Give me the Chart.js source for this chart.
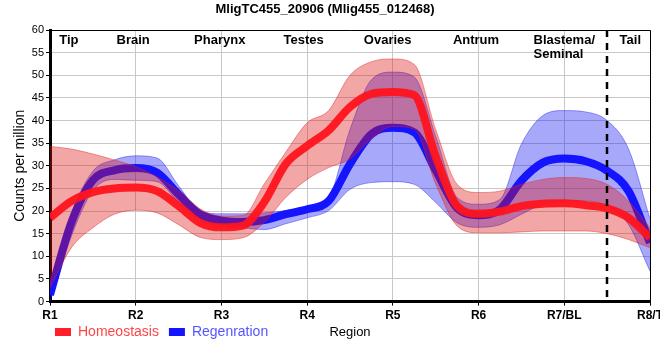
<!DOCTYPE html>
<html>
<head>
<meta charset="utf-8">
<script src="https://cdn.jsdelivr.net/npm/chart.js@4.4.0/dist/chart.umd.min.js"></script>
<style>
  html, body { margin: 0; padding: 0; background: #fff; }
</style>
</head>
<body>
<canvas id="chart" width="660" height="360"></canvas>
<script>
// regions along the body axis (x ticks)
const regions = ['R1', 'R2', 'R3', 'R4', 'R5', 'R6', 'R7/BL', 'R8/T'];

const samplePos = [0, 0.25, 0.5, 0.75, 1, 1.25, 1.5, 1.75, 2, 2.25, 2.5, 2.75, 3, 3.25, 3.5, 3.75,
                   4, 4.25, 4.5, 4.75, 5, 5.25, 5.5, 5.75, 6, 6.25, 6.5, 6.75, 7];

// Homeostasis: mean and band
const homeostasis = [18.5, 22.2, 24.2, 25.0, 25.2, 24.4, 21.1, 17.4, 16.4, 16.8, 22.0, 30.4, 34.4, 37.8, 43.0, 45.9,
                     46.3, 45.6, 32.0, 21.1, 19.4, 19.9, 21.1, 21.6, 21.7, 21.3, 20.6, 18.5, 14.1];
const homeoUpper = [34.3, 33.7, 32.6, 31.3, 29.8, 27.5, 24.5, 20.5, 18.9, 19.0, 26.0, 33.0, 39.5, 42.2, 50.0, 53.0,
                    53.6, 52.4, 38.0, 25.9, 24.1, 24.4, 25.9, 27.0, 27.4, 27.2, 25.9, 22.2, 16.3];
const homeoLower = [3.0, 11.9, 16.3, 19.3, 20.2, 19.6, 17.0, 14.2, 13.7, 14.1, 17.5, 23.0, 27.0, 29.6, 31.5, 36.0,
                    38.7, 38.1, 26.0, 16.7, 15.2, 15.2, 15.4, 15.6, 15.6, 15.6, 15.0, 13.7, 11.9];

// Regeneration: mean and band
const regeneration = [1.5, 17.5, 26.8, 29.0, 29.5, 28.5, 23.7, 19.3, 17.9, 17.6, 18.0, 19.3, 20.4, 22.2, 30.4, 37.0,
                      38.4, 37.4, 29.0, 20.7, 19.1, 20.4, 26.7, 30.7, 31.6, 31.0, 28.9, 24.4, 13.0];
const regenUpper = [2.5, 19.3, 28.8, 31.3, 32.2, 31.7, 25.6, 20.0, 19.4, 19.4, 19.6, 20.1, 21.1, 23.0, 38.0, 49.0,
                    50.7, 49.6, 36.5, 23.0, 21.5, 22.6, 34.8, 41.1, 42.2, 41.9, 40.0, 33.7, 18.3];
const regenLower = [0.0, 14.5, 24.5, 27.0, 26.8, 26.5, 21.9, 17.8, 16.7, 16.3, 15.9, 17.2, 18.5, 20.1, 24.8, 26.3,
                    26.5, 25.9, 21.9, 17.4, 16.4, 17.0, 19.3, 21.5, 22.2, 22.2, 21.1, 17.0, 6.7];

// tissue names written along the top, and where the tail starts
const tissueNames = ['Tip', 'Brain', 'Pharynx', 'Testes', 'Ovaries', 'Antrum', 'Blastema/\nSeminal', 'Tail'];
const tissuePos = [0.22, 0.97, 1.98, 2.96, 3.94, 4.97, 6.0, 6.77];
const tailStart = 6.5;

const FONT = "'Liberation Sans', Arial, sans-serif";

function toPoints(values) {
    return values.map((v, i) => ({ x: samplePos[i], y: v }));
}

// draws tissue labels, the dashed tail line, the frame and the "Region" label
const decorations = {
    id: 'decorations',
    afterLayout(chart) {
        // legend sits on the same row as the axis title, a bit in from the left
        let lg = chart.legend;
        let h = lg.height;
        lg.left = 45;
        lg.top = 315;
        lg.bottom = 315 + h;
    },
    afterDatasetsDraw(chart) {
        const ctx = chart.ctx;
        const area = chart.chartArea;
        const x = chart.scales.x;

        ctx.save();
        ctx.strokeStyle = '#000';
        ctx.lineWidth = 1;
        ctx.beginPath();
        ctx.moveTo(area.left, area.top + 0.5);
        ctx.lineTo(area.right + 0.5, area.top + 0.5);
        ctx.lineTo(area.right + 0.5, area.bottom);
        ctx.stroke();

        let cut = Math.round(x.getPixelForValue(tailStart));
        ctx.lineWidth = 2.5;
        ctx.setLineDash([7, 6]);
        ctx.beginPath();
        ctx.moveTo(cut, area.top);
        ctx.lineTo(cut, area.bottom);
        ctx.stroke();
        ctx.setLineDash([]);

        ctx.fillStyle = '#000';
        ctx.font = 'bold 13px ' + FONT;
        ctx.textBaseline = 'middle';
        for (let i = 0; i < tissueNames.length; i++) {
            let lines = tissueNames[i].split('\n');
            let px = x.getPixelForValue(tissuePos[i]);
            if (lines.length > 1) {
                let w = ctx.measureText(lines[0]).width;
                ctx.textAlign = 'left';
                lines.forEach((l, j) => ctx.fillText(l, px - w / 2, area.top + 10 + j * 14.5));
            } else {
                ctx.textAlign = 'center';
                ctx.fillText(lines[0], px, area.top + 10);
            }
        }

        ctx.font = '13px ' + FONT;
        ctx.textAlign = 'center';
        let hb = chart.legend.legendHitBoxes[0];
        ctx.fillText('Region', (area.left + area.right) / 2, hb.top + hb.height / 2);
        ctx.restore();
    }
};

const ctx = document.getElementById('chart').getContext('2d');
const chart = new Chart(ctx, {
    type: 'line',
    data: {
        datasets: [
            {
                label: 'Homeostasis',
                data: toPoints(homeostasis),
                borderColor: 'rgba(255, 20, 30, 0.95)',
                borderWidth: 8,
                legendText: 'rgb(255, 70, 70)',
                order: 1
            },
            {
                label: 'homeo upper',
                data: toPoints(homeoUpper),
                borderColor: 'rgba(225, 40, 40, 0.45)',
                backgroundColor: 'rgba(220, 20, 20, 0.38)',
                borderWidth: 1,
                fill: '+1',
                order: 2
            },
            {
                label: 'homeo lower',
                data: toPoints(homeoLower),
                borderColor: 'rgba(225, 40, 40, 0.45)',
                borderWidth: 1,
                order: 2
            },
            {
                label: 'Regenration',
                data: toPoints(regeneration),
                borderColor: 'rgba(20, 20, 255, 1)',
                borderWidth: 8,
                legendText: 'rgb(85, 85, 255)',
                order: 3
            },
            {
                label: 'regen upper',
                data: toPoints(regenUpper),
                borderColor: 'rgba(40, 40, 240, 0.45)',
                backgroundColor: 'rgba(15, 15, 245, 0.36)',
                borderWidth: 1,
                fill: '+1',
                order: 4
            },
            {
                label: 'regen lower',
                data: toPoints(regenLower),
                borderColor: 'rgba(40, 40, 240, 0.45)',
                borderWidth: 1,
                order: 4
            }
        ]
    },
    options: {
        responsive: false,
        animation: false,
        layout: { padding: { left: 0, right: 10, top: 0, bottom: 0 } },
        elements: {
            point: { radius: 0, hoverRadius: 0 },
            line: { cubicInterpolationMode: 'monotone', fill: false, borderCapStyle: 'butt' }
        },
        scales: {
            x: {
                type: 'linear',
                min: 0,
                max: regions.length - 1,
                afterFit: scale => { scale.paddingLeft = 0; scale.paddingRight = 0; },
                ticks: {
                    stepSize: 1,
                    autoSkip: false,
                    maxRotation: 0,
                    padding: 3,
                    color: '#000',
                    font: { family: FONT, size: 12, weight: 'bold' },
                    callback: v => regions[v]
                },
                grid: { color: '#c8c8c8', tickColor: '#000', tickLength: 4 },
                border: { color: '#000', width: 3 }
            },
            y: {
                min: 0,
                max: 60,
                afterFit: scale => { scale.width = 50; },
                ticks: {
                    stepSize: 5,
                    padding: 2,
                    color: '#000',
                    font: { family: FONT, size: 11 }
                },
                grid: { color: '#c8c8c8', tickColor: '#000', tickLength: 4 },
                border: { color: '#000', width: 3 },
                title: {
                    display: true,
                    text: 'Counts per million',
                    color: '#000',
                    font: { family: FONT, size: 14 },
                    padding: { top: 12, bottom: 0 }
                }
            }
        },
        plugins: {
            filler: { drawTime: 'beforeDatasetDraw' },
            tooltip: { enabled: false },
            title: {
                display: true,
                text: 'MligTC455_20906 (Mlig455_012468)',
                color: '#000',
                font: { family: FONT, size: 13, weight: 'bold' },
                padding: { top: 2, bottom: 12.4 }
            },
            legend: {
                position: 'bottom',
                align: 'start',
                labels: {
                    boxWidth: 16,
                    boxHeight: 8,
                    padding: 10,
                    font: { family: FONT, size: 14 },
                    filter: item => item.datasetIndex === 0 || item.datasetIndex === 3,
                    generateLabels: chart => {
                        let items = Chart.defaults.plugins.legend.labels.generateLabels(chart);
                        items.forEach(item => {
                            let ds = chart.data.datasets[item.datasetIndex];
                            item.fillStyle = ds.borderColor;
                            item.strokeStyle = ds.borderColor;
                            item.lineWidth = 0;
                            item.fontColor = ds.legendText;
                        });
                        return items;
                    }
                }
            }
        }
    },
    plugins: [decorations]
});
</script>
</body>
</html>
